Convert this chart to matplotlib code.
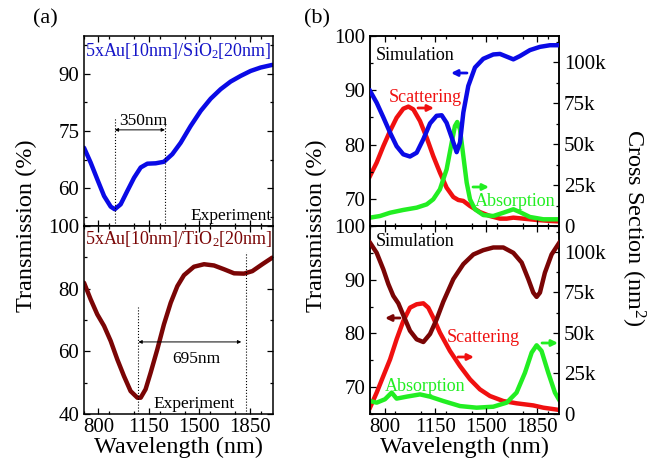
import matplotlib
matplotlib.use("Agg")
import matplotlib.pyplot as plt
from matplotlib.ticker import MultipleLocator, FixedLocator

plt.rcParams['font.family'] = ['Liberation Serif', 'DejaVu Serif']
plt.rcParams['mathtext.fontset'] = 'custom'
plt.rcParams['mathtext.rm'] = 'Liberation Serif'
plt.rcParams['mathtext.it'] = 'Liberation Serif:italic'

# ---------------- data ----------------
# (a) top: 5xAu/SiO2 experiment
wl_sio2_exp = [700, 746, 792, 839, 885, 913, 954, 1000, 1047, 1093, 1139, 1197, 1254, 1312,
               1370, 1439, 1509, 1578, 1647, 1716, 1786, 1855, 1924, 2005]
T_sio2_exp = [70.6, 66.7, 62.3, 57.9, 55.1, 54.4, 55.7, 59.2, 62.7, 65.4, 66.4, 66.5, 66.9, 68.9,
              71.9, 76.3, 80.3, 83.5, 86.0, 88.0, 89.5, 90.8, 91.7, 92.4]
sio2_marks = [913, 1261]

# (a) bottom: 5xAu/TiO2 experiment
wl_tio2_exp = [700, 746, 792, 839, 885, 931, 977, 1023, 1070, 1093, 1127, 1162, 1208, 1254,
               1301, 1347, 1393, 1462, 1532, 1601, 1670, 1740, 1809, 1867, 1936, 2005]
T_tio2_exp = [81.9, 76.6, 71.8, 68.1, 63.3, 57.4, 52.1, 47.3, 45.2, 45.2, 47.9, 53.2, 60.6, 68.6,
              75.5, 80.8, 84.3, 87.0, 87.8, 87.4, 86.2, 84.9, 84.8, 85.6, 87.8, 89.9]
tio2_marks = [1077, 1820]

# (b) top: SiO2 simulation
wl_sio2_T = [700, 746, 792, 838, 883, 929, 975, 1021, 1067, 1113, 1158, 1193, 1227, 1262, 1296,
             1319, 1342, 1376, 1422, 1479, 1548, 1594, 1640, 1686, 1731, 1800, 1869, 1938, 2002]
T_sio2_sim = [89.9, 87.7, 85.0, 82.2, 79.7, 78.2, 77.8, 78.5, 81.0, 83.9, 85.3, 85.4, 84.0, 81.3, 78.6,
              80.4, 85.9, 90.8, 94.2, 95.8, 96.6, 96.7, 96.2, 95.7, 96.3, 97.4, 98.0, 98.3, 98.3]
wl_sio2_sca = [700, 746, 792, 838, 883, 929, 964, 998, 1044, 1090, 1135, 1181, 1227, 1273, 1307,
               1342, 1388, 1456, 1525, 1594, 1640, 1686, 1754, 1846, 1938, 2002]
sca_sio2 = [30.5, 38.7, 48.8, 58.0, 66.1, 71.6, 72.9, 71.2, 64.1, 53.9, 42.7, 32.6, 23.4, 17.7, 15.9,
            15.3, 12.2, 8.5, 6.1, 4.5, 4.5, 5.1, 4.5, 3.7, 3.1, 2.8]
wl_sio2_abs = [700, 769, 838, 929, 1021, 1090, 1135, 1181, 1227, 1262, 1284, 1300, 1319, 1342,
               1365, 1388, 1422, 1479, 1548, 1617, 1686, 1731, 1800, 1892, 2002]
abs_sio2 = [5.1, 6.1, 8.1, 9.8, 11.2, 13.2, 16.3, 22.4, 34.6, 50.9, 61.0, 63.5, 59.0, 42.7,
            26.5, 16.3, 10.2, 6.7, 6.1, 8.1, 10.2, 8.5, 5.5, 4.1, 4.1]

# (b) bottom: TiO2 simulation
wl_tio2_T = [700, 746, 792, 826, 860, 895, 929, 975, 1021, 1067, 1113, 1158, 1204, 1273, 1342,
             1411, 1479, 1548, 1617, 1686, 1743, 1789, 1823, 1846, 1869, 1903, 1949, 2002]
T_tio2_sim = [96.9, 95.0, 91.9, 89.2, 87.0, 85.6, 83.4, 80.5, 78.9, 78.4, 79.9, 82.6, 85.9, 90.1, 92.9,
              94.7, 95.5, 96.0, 96.0, 95.0, 93.2, 90.1, 87.6, 86.8, 87.6, 91.3, 94.7, 96.9]
wl_tio2_sca = [700, 746, 792, 838, 883, 929, 975, 1021, 1067, 1101, 1135, 1181, 1250, 1319, 1388,
               1456, 1525, 1617, 1708, 1823, 1892, 2002]
sca_tio2 = [3.9, 13.2, 23.5, 33.7, 46.1, 57.4, 65.6, 67.7, 68.3, 65.6, 59.5, 50.2, 38.9, 29.6, 21.4,
            15.2, 11.1, 8.0, 6.6, 5.3, 3.9, 2.5]
wl_tio2_abs = [700, 746, 803, 849, 883, 952, 1044, 1113, 1204, 1319, 1433, 1548, 1640, 1708, 1766,
               1812, 1846, 1880, 1926, 1972, 2002]
abs_tio2 = [8.0, 7.0, 9.1, 13.2, 9.5, 10.7, 12.1, 10.7, 8.0, 4.9, 3.9, 4.5, 7.0, 13.2, 25.5,
            37.9, 42.4, 38.9, 25.5, 13.2, 8.6]

x_ticks = [800, 1150, 1500, 1850]
cs_ticks = [0, 25, 50, 75, 100]
cs_labels = ['0', '25k', '50k', '75k', '100k']

BLUE = '#0a0ae6'
BROWN = '#7a0505'
RED = '#f01010'
GREEN = '#22ee22'

# ---------------- figure ----------------
W, H = 672, 465
fig = plt.figure(figsize=(W / 100, H / 100), dpi=100)

def box(x0, y0, x1, y1):
    return [x0 / W, 1 - y1 / H, (x1 - x0) / W, (y1 - y0) / H]

axA1 = fig.add_axes(box(84, 36, 273, 226))
axA2 = fig.add_axes(box(84, 226, 273, 414))
axB1 = fig.add_axes(box(370, 36, 559, 226))
axB2 = fig.add_axes(box(370, 226, 559, 414))
axB1r = axB1.twinx()
axB2r = axB2.twinx()

TICK_FS = 15
for ax in (axA1, axA2, axB1, axB2, axB1r, axB2r):
    for s in ax.spines.values():
        s.set_linewidth(1.1)
    ax.tick_params(which='both', direction='in', labelsize=TICK_FS, width=0.9)
    ax.tick_params(which='major', length=4)
    ax.tick_params(which='minor', length=2.5)

for ax in (axA1, axA2):
    ax.tick_params(which='both', top=True, right=True)
for ax in (axB1, axB2):
    ax.tick_params(which='both', top=True)

# x axes
for ax, xl in ((axA1, (700, 2010)), (axA2, (700, 2010)), (axB1, (700, 2000)), (axB2, (700, 2000))):
    ax.set_xlim(*xl)
    ax.xaxis.set_major_locator(FixedLocator(x_ticks))
    ax.xaxis.set_minor_locator(MultipleLocator(175))
for ax in (axA1, axB1):
    ax.tick_params(labelbottom=False)
for ax in (axA2, axB2):
    ax.tick_params(axis='x', pad=3)

LW = 3.2
# ---- (a) top ----
axA1.plot(wl_sio2_exp, T_sio2_exp, color=BLUE, lw=LW, solid_capstyle='round', solid_joinstyle='round')
axA1.set_ylim(50, 100)
axA1.set_yticks([60, 75, 90])
axA1.yaxis.set_minor_locator(MultipleLocator(7.5))
for m in sio2_marks:
    axA1.plot([m, m], [50, 78.5], color='k', ls=':', lw=0.8)
axA1.annotate('', xy=(sio2_marks[0], 75.3), xytext=(sio2_marks[1], 75.3),
              arrowprops=dict(arrowstyle='<|-|>', lw=0.7, color='k', mutation_scale=5,
                              shrinkA=0, shrinkB=0))
axA1.text(sio2_marks[0] + 30, 75.6, '350nm', fontsize=12.5, ha='left', va='bottom')
axA1.text(0.995, 0.01, 'Experiment', transform=axA1.transAxes, fontsize=12.5,
          ha='right', va='bottom')
axA1.text(0.005, 0.975, '5xAu[10nm]/SiO$_2$[20nm]', transform=axA1.transAxes,
          fontsize=13, color='#1414c8', ha='left', va='top')

# ---- (a) bottom ----
axA2.plot(wl_tio2_exp, T_tio2_exp, color=BROWN, lw=LW, solid_capstyle='round', solid_joinstyle='round')
axA2.set_ylim(40, 100)
axA2.set_yticks([40, 60, 80, 100])
axA2.yaxis.set_minor_locator(MultipleLocator(10))
axA2.plot([tio2_marks[0]] * 2, [40, 74], color='k', ls=':', lw=0.8)
axA2.plot([tio2_marks[1]] * 2, [40, 91.7], color='k', ls=':', lw=0.8)
axA2.annotate('', xy=(tio2_marks[0], 63), xytext=(tio2_marks[1] - 30, 63),
              arrowprops=dict(arrowstyle='<|-|>', lw=0.7, color='k', mutation_scale=5,
                              shrinkA=0, shrinkB=0))
axA2.text(1478, 57.4, '695nm', fontsize=12.5, ha='center', va='center')
axA2.text(1462, 40.5, 'Experiment', fontsize=12.5, ha='center', va='bottom')
axA2.text(0.005, 0.985, '5xAu[10nm]/TiO$_2$[20nm]', transform=axA2.transAxes,
          fontsize=13, color=BROWN, ha='left', va='top')

# ---- (b) top ----
axB1.plot(wl_sio2_T, T_sio2_sim, color=BLUE, lw=LW, zorder=3, solid_joinstyle='round')
axB1.set_ylim(65, 100)
axB1.set_yticks([70, 80, 90, 100])
axB1.yaxis.set_minor_locator(MultipleLocator(5))
axB1r.plot(wl_sio2_sca, sca_sio2, color=RED, lw=LW, solid_joinstyle='round')
axB1r.plot(wl_sio2_abs, abs_sio2, color=GREEN, lw=LW, solid_joinstyle='round')
axB1r.set_ylim(0, 116)
axB1r.set_yticks(cs_ticks)
axB1r.set_yticklabels(cs_labels)
axB1r.yaxis.set_minor_locator(MultipleLocator(12.5))

def fx(x):  # pixel -> axes fraction x for right panels
    return (x - 370) / 189

axB1.text(0.03, 0.9, 'Simulation', transform=axB1.transAxes, fontsize=13, ha='left', va='center')
axB1.text(fx(425), (226 - 97) / 190, 'Scattering', transform=axB1.transAxes, fontsize=13,
          color=RED, ha='center', va='center')
axB1.text(fx(515), (226 - 201) / 190, 'Absorption', transform=axB1.transAxes, fontsize=13,
          color=GREEN, ha='center', va='center')

def harrow(ax, x0, x1, y, yb, yt, color):
    ax.annotate('', xy=(fx(x1), (yb - y) / yt), xytext=(fx(x0), (yb - y) / yt),
                xycoords=ax.transAxes, textcoords=ax.transAxes,
                arrowprops=dict(arrowstyle='-|>', lw=2, color=color, mutation_scale=9,
                                shrinkA=0, shrinkB=0))

harrow(axB1r, 467, 451, 73, 226, 190, BLUE)
harrow(axB1r, 418, 434, 108, 226, 190, RED)
harrow(axB1r, 473, 489, 187, 226, 190, GREEN)

# ---- (b) bottom ----
axB2.plot(wl_tio2_T, T_tio2_sim, color=BROWN, lw=LW, zorder=3, solid_joinstyle='round')
axB2.set_ylim(65, 100)
axB2.set_yticks([70, 80, 90, 100])
axB2.yaxis.set_minor_locator(MultipleLocator(5))
axB2r.plot(wl_tio2_sca, sca_tio2, color=RED, lw=LW, solid_joinstyle='round')
axB2r.plot(wl_tio2_abs, abs_tio2, color=GREEN, lw=LW, solid_joinstyle='round')
axB2r.set_ylim(0, 116)
axB2r.set_yticks(cs_ticks)
axB2r.set_yticklabels(cs_labels)
axB2r.yaxis.set_minor_locator(MultipleLocator(12.5))

axB2.text(0.03, 0.915, 'Simulation', transform=axB2.transAxes, fontsize=13, ha='left', va='center')
axB2.text(fx(483), (414 - 337) / 188, 'Scattering', transform=axB2.transAxes, fontsize=13,
          color=RED, ha='center', va='center')
axB2.text(fx(425), (414 - 386) / 188, 'Absorption', transform=axB2.transAxes, fontsize=13,
          color=GREEN, ha='center', va='center')
harrow(axB2r, 400, 385, 318, 414, 188, BROWN)
harrow(axB2r, 458, 474, 357, 414, 188, RED)
harrow(axB2r, 542, 558, 343, 414, 188, GREEN)

# keep left-axis lines on top of right-axis lines for the transmission curves
for a, ar in ((axB1, axB1r), (axB2, axB2r)):
    a.set_zorder(ar.get_zorder() + 1)
    a.patch.set_visible(False)

# ---- labels ----
LAB_FS = 17.5
for ax in (axA2, axB2):
    ax.set_xlabel('Wavelength (nm)', fontsize=LAB_FS, labelpad=0)
fig.text(26 / W, 1 - 226 / H, 'Transmission (%)', rotation=90, fontsize=LAB_FS,
         ha='center', va='center')
fig.text(316 / W, 1 - 226 / H, 'Transmission (%)', rotation=90, fontsize=LAB_FS,
         ha='center', va='center')
fig.text(633 / W, 1 - 228 / H, 'Cross Section (nm$^2$)', rotation=270, fontsize=LAB_FS,
         ha='center', va='center')
fig.text(45 / W, 1 - 19 / H, '(a)', fontsize=16, ha='center', va='center')
fig.text(317 / W, 1 - 19 / H, '(b)', fontsize=16, ha='center', va='center')

fig.savefig('out.png', dpi=100)
